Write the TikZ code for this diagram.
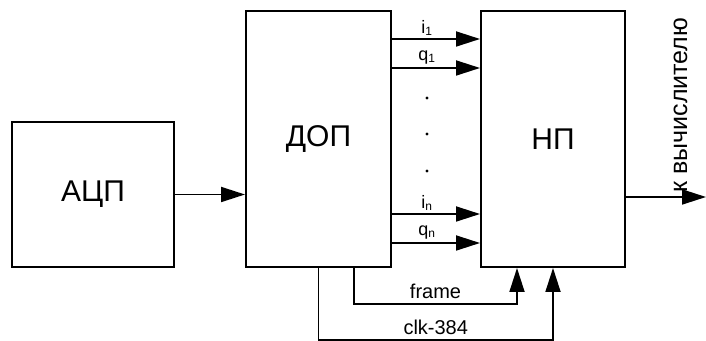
\documentclass[tikz,border=0pt]{standalone}
\usepackage{fontspec}
\setmainfont{Liberation Sans}
\usetikzlibrary{arrows.meta}

\begin{document}
\begin{tikzpicture}[x=0.5pt,y=-0.5pt,
    blk/.style={draw,line width=1pt,inner sep=0pt,
        font=\fontsize{15}{18}\selectfont},
    sig/.style={line width=0.9pt,-{Triangle[length=12pt,width=7.5pt]}},
    chan/.style={font=\fontsize{9}{11}\selectfont,inner sep=1.5pt},
    tact/.style={font=\fontsize{10}{12}\selectfont,inner sep=2pt}]
    \useasboundingbox (0,0) rectangle (706,341);

    \node[blk,minimum width=81pt,minimum height=72.5pt] (adc) at (93,194.5) {АЦП};
    \node[blk,minimum width=72.5pt,minimum height=128pt] (dop) at (318.5,139) {ДОП};
    \node[blk,minimum width=72pt,minimum height=128pt] (np) at (553,139) {НП};

    \draw[sig] (adc.east) -- (adc.east -| dop.west);

    \draw[sig] ([yshift=-14.5pt]dop.north east) -- ([yshift=-14.5pt]np.north west)
        node[chan,pos=0.4,above] {i\textsubscript{1}};
    \draw[sig] ([yshift=-29pt]dop.north east) -- ([yshift=-29pt]np.north west)
        node[chan,pos=0.4,above] {q\textsubscript{1}};
    \foreach \y in {98,134,171}
        \fill (427,\y) circle (0.8pt);
    \draw[sig] ([yshift=27pt]dop.south east) -- ([yshift=27pt]np.south west)
        node[chan,pos=0.4,above] {i\textsubscript{n}};
    \draw[sig] ([yshift=12.5pt]dop.south east) -- ([yshift=12.5pt]np.south west)
        node[chan,pos=0.4,above] {q\textsubscript{n}};

    \draw[sig] ([xshift=17.75pt]dop.south) -- ++(0,36)
        -| ([xshift=-18pt]np.south)
        node[tact,pos=0.25,above] {frame};
    \draw[sig] (dop.south) -- ++(0,72)
        -| (np.south)
        node[tact,pos=0.25,above] {clk-384};

    \coordinate (out) at (706,197);
    \draw[sig] (np.east |- out) -- (out);
    \node[rotate=90,anchor=base west,inner sep=0pt,
        font=\fontsize{12.5}{15}\selectfont] (dest) at (687,193) {к вычислителю};
\end{tikzpicture}
\end{document}
